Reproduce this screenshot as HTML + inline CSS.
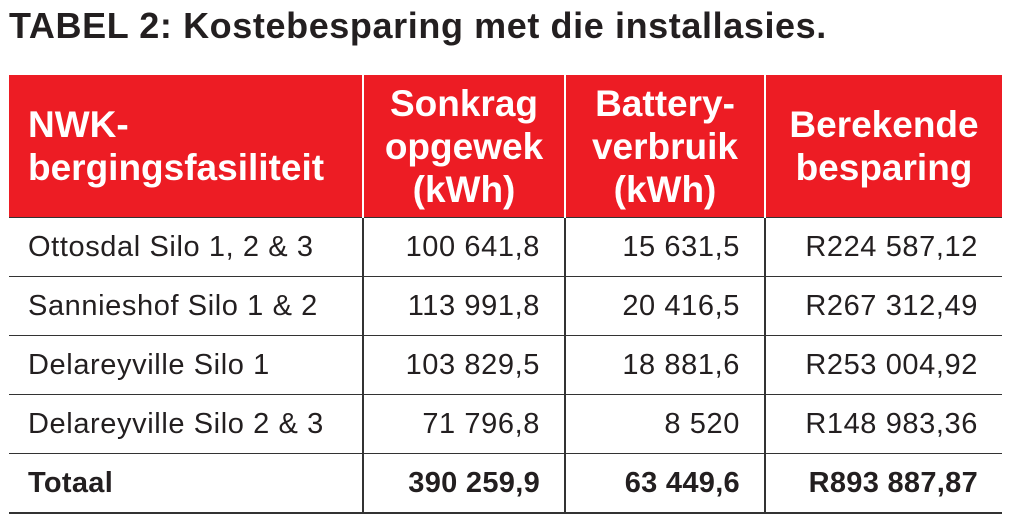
<!DOCTYPE html>
<html><head><meta charset="utf-8"><style>
body{margin:0;width:1023px;height:532px;background:#fff;font-family:"Liberation Sans",sans-serif;color:#231f20;position:relative;overflow:hidden}
.t{position:absolute;left:9px;top:5px;font-size:36px;font-weight:bold;letter-spacing:0.6px;white-space:nowrap}
table{position:absolute;left:9px;top:75px;border-collapse:collapse;width:993px}
th{background:#ed1c24;color:#fff;font-size:37px;font-weight:bold;height:142px;line-height:43px;padding:0;border-left:2px solid #fff;text-align:center;white-space:nowrap}
th:first-child{text-align:left;padding-left:19px;border-left:none}
td{height:58px;font-size:29px;letter-spacing:0.6px;border-top:1.5px solid #333;border-left:2px solid #333;text-align:right;padding:0 24px 0 0;white-space:nowrap}
td:first-child{text-align:left;padding-left:19px;border-left:none}
tr:last-child td{border-bottom:2px solid #333;font-weight:bold;letter-spacing:0.3px}
</style></head><body>
<div class="t">TABEL 2: Kostebesparing met die installasies.</div>
<table>
<colgroup><col style="width:354px"><col style="width:202px"><col style="width:200px"><col style="width:237px"></colgroup>
<tr><th>NWK-<br>bergingsfasiliteit</th><th>Sonkrag<br>opgewek<br>(kWh)</th><th>Battery-<br>verbruik<br>(kWh)</th><th>Berekende<br>besparing</th></tr>
<tr><td>Ottosdal Silo 1, 2 &amp; 3</td><td>100 641,8</td><td>15 631,5</td><td>R224 587,12</td></tr>
<tr><td>Sannieshof Silo 1 &amp; 2</td><td>113 991,8</td><td>20 416,5</td><td>R267 312,49</td></tr>
<tr><td>Delareyville Silo 1</td><td>103 829,5</td><td>18 881,6</td><td>R253 004,92</td></tr>
<tr><td>Delareyville Silo 2 &amp; 3</td><td>71 796,8</td><td>8 520</td><td>R148 983,36</td></tr>
<tr><td>Totaal</td><td>390 259,9</td><td>63 449,6</td><td>R893 887,87</td></tr>
</table>
</body></html>
